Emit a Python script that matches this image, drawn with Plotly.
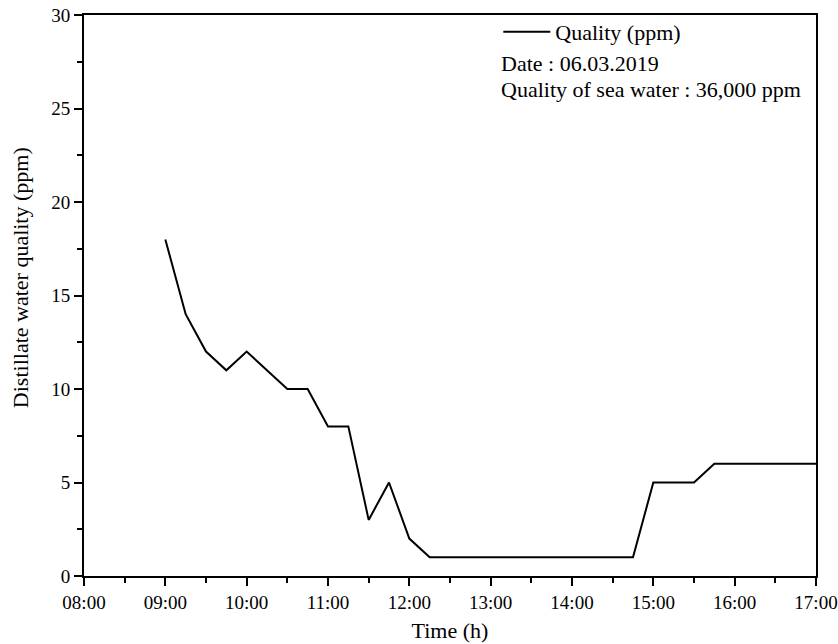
import plotly.graph_objects as go

times = ["09:00", "09:15", "09:30", "09:45", "10:00", "10:15", "10:30", "10:45",
         "11:00", "11:15", "11:30", "11:45", "12:00", "12:15", "12:30", "12:45",
         "13:00", "13:15", "13:30", "13:45", "14:00", "14:15", "14:30", "14:45",
         "15:00", "15:15", "15:30", "15:45", "16:00", "16:15", "16:30", "16:45", "17:00"]
quality = [18, 14, 12, 11, 12, 11, 10, 10,
           8, 8, 3, 5, 2, 1, 1, 1,
           1, 1, 1, 1, 1, 1, 1, 1,
           5, 5, 5, 6, 6, 6, 6, 6, 6]

x_vals = ["2019-03-06 " + t for t in times]
FONT = "Liberation Serif"

fig = go.Figure()
fig.add_trace(go.Scatter(x=x_vals, y=quality, mode="lines", name="Quality (ppm)",
                         line=dict(color="black", width=2)))

fig.update_layout(
    width=838, height=644,
    margin=dict(l=84, r=22, t=15, b=68, autoexpand=False),
    plot_bgcolor="white", paper_bgcolor="white",
    font=dict(family=FONT, size=19, color="black"),
    showlegend=True,
    legend=dict(x=0.566, y=1.007, xanchor="left", yanchor="top", bgcolor="rgba(0,0,0,0)",
                font=dict(family=FONT, size=22), borderwidth=0, itemwidth=47,
                tracegroupgap=0),
    annotations=[
        dict(text="Date : 06.03.2019", xref="paper", yref="paper", x=0.567, y=0.914,
             xanchor="left", yanchor="middle", showarrow=False, font=dict(family=FONT, size=22)),
        dict(text="Quality of sea water : 36,000 ppm", xref="paper", yref="paper", x=0.567, y=0.867,
             xanchor="left", yanchor="middle", showarrow=False, font=dict(family=FONT, size=22)),
        dict(text="Distillate water quality (ppm)", xref="paper", yref="paper", x=-0.0874, y=0.531,
             xanchor="center", yanchor="middle", textangle=-90, showarrow=False,
             font=dict(family=FONT, size=22)),
    ],
)

fig.update_xaxes(
    range=["2019-03-06 08:00", "2019-03-06 17:00"],
    tickformat="%H:%M", dtick=3600000, tick0="2019-03-06 08:00",
    ticks="outside", ticklen=8, tickwidth=2, tickcolor="black",
    minor=dict(ticks="outside", ticklen=5, tickwidth=2, tickcolor="black", dtick=1800000),
    showline=True, linecolor="black", linewidth=2, mirror=True,
    showgrid=False, zeroline=False, automargin=False,
    title=dict(text="Time (h)", font=dict(family=FONT, size=22), standoff=11),
    tickfont=dict(family=FONT, size=19),
)
fig.update_yaxes(
    range=[0, 30], dtick=5,
    ticks="outside", ticklen=8, tickwidth=2, tickcolor="black",
    minor=dict(ticks="outside", ticklen=5, tickwidth=2, tickcolor="black", dtick=2.5),
    showline=True, linecolor="black", linewidth=2, mirror=True,
    showgrid=False, zeroline=False, automargin=False,
    tickfont=dict(family=FONT, size=19),
)

fig.write_html("out.html")
